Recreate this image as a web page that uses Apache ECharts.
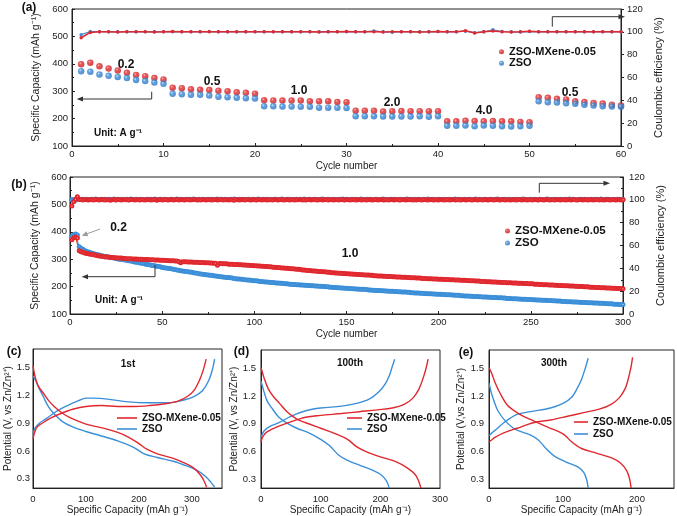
<!DOCTYPE html>
<html><head><meta charset="utf-8">
<script src="https://cdn.jsdelivr.net/npm/echarts@6/dist/echarts.min.js"></script>
<style>html,body{margin:0;padding:0;background:#fff}#c{width:677px;height:516px}</style>
</head><body><div id="c"></div>
<script>
// ---------- Panel (a): rate capability ----------
const capA_red = [398,404,391,383,376,367,359,355,348,343, 313,311,307,305,304,302,300,296,294,291, 267,266,266,266,266,263,263,263,261,260, 229,229,229,226,227,228,227,227,227,227, 190,190,192,191,190,191,190,190,188,187, 278,276,272,270,263,261,257,255,251,248];
const capA_blue = [373,371,361,356,352,348,341,337,332,327, 291,289,287,287,284,280,278,276,274,273, 245,245,244,244,243,243,240,240,240,239, 209,209,209,208,208,208,208,209,207,209, 174,174,175,172,175,174,172,171,172,174, 263,260,259,256,254,251,248,245,244,243];
const ceA_red = [94.8,99.5,100.1,100.0,99.9,100.0,100.1,100.0,99.9,100.0, 100.3,100.1,100.0,100.1,100.0,100.0,100.1,100.0,100.0,100.1, 100.0,100.1,100.0,100.0,100.1,100.0,99.9,100.0,100.0,100.2, 100.0,100.0,100.1,99.9,100.0,100.0,100.0,99.9,100.0,100.3, 100.0,100.0,101.0,99.0,100.0,100.7,100.1,99.9,100.0,100.6, 100.0,100.0,100.0,100.0,100.0,100.0,100.0,100.0,100.0,100.0];
const ceA_blue = [97.5,100.3,100.1,100.0,100.0,100.1,100.0,100.0,100.1,100.0, 100.1,100.0,100.0,100.0,100.2,100.0,100.0,100.1,100.0,100.0, 100.1,100.0,100.0,100.0,100.0,100.1,100.0,100.0,100.0,100.1, 100.0,100.0,100.8,100.0,99.7,100.0,100.1,100.0,100.0,100.2, 100.0,100.0,100.6,99.3,100.0,101.8,100.3,100.0,99.8,100.2, 100.0,100.0,100.0,100.0,100.0,100.0,100.0,100.0,100.0,100.0];
const rateLabelsA = ['0.2','0.5','1.0','2.0','4.0','0.5'];

// ---------- Panel (b): long cycling at 1.0 A/g ----------
const capB_red = [371,378,381,377,331,327,325,323,321,320, 318,317,316,314,313,312,311,310,308,309, 307,307,306,305,305,304,304,304,303,303, 302,302,302,301,301,301,300,300,300,299,
 299,299,298,298,298,297,297,297,296,296, 296,295,295,294,294,294,293,293,292,287, 291,291,291,290,290,290,289,289,289,288, 288,288,287,287,287,286,286,285,285,278,
 284,284,283,283,283,282,282,282,281,281, 281,280,280,279,279,278,278,277,277,276, 276,275,275,274,274,273,273,272,272,271, 271,270,270,269,268,268,267,267,266,265,
 265,264,263,263,262,261,261,260,259,259, 258,257,257,256,255,255,254,254,253,252, 252,251,251,250,250,249,249,248,248,247, 247,246,246,245,245,244,244,243,243,242,
 242,242,241,241,240,240,239,239,239,238, 238,237,237,237,236,236,235,235,235,234, 234,234,233,233,232,232,232,231,231,231, 230,230,230,229,229,229,228,228,228,227,
 227,227,226,226,226,225,225,225,224,224, 224,223,223,223,222,222,221,221,221,220, 220,220,219,219,219,218,218,218,217,217, 217,216,216,215,215,215,214,214,214,213,
 213,213,212,212,212,211,211,211,210,210, 210,209,209,209,208,208,207,207,207,206, 206,206,205,205,204,204,204,203,203,203, 202,202,202,201,201,200,200,200,199,199,
 199,198,198,198,197,197,197,196,196,196, 195,195,195,194,194,194,193,193,193,192];
const capB_blue = [384,389,392,388,345,340,336,332,329,326, 324,322,320,318,316,315,313,312,310,309, 308,306,305,304,303,301,300,299,298,297, 295,294,293,292,290,289,288,286,285,284,
 282,281,280,278,277,276,274,273,272,270, 269,268,267,266,265,263,262,261,260,258, 257,256,255,254,253,252,251,250,249,247, 246,245,244,243,242,241,241,240,239,238,
 237,236,235,234,233,233,232,231,230,229, 228,228,227,226,225,224,224,223,222,221, 221,220,219,219,218,217,217,216,215,215, 214,213,213,212,212,211,210,210,209,209,
 208,208,207,207,206,206,205,205,204,204, 203,203,202,202,201,201,200,200,199,199, 198,198,197,197,196,196,195,195,194,194, 193,193,192,192,191,191,190,190,190,189,
 189,188,188,187,187,186,186,186,185,185, 184,184,183,183,183,182,182,181,181,180, 180,180,179,179,178,178,177,177,177,176, 176,175,175,174,174,174,173,173,172,172,
 172,171,171,170,170,170,169,169,168,168, 168,167,167,166,166,166,165,165,164,164, 164,163,163,162,162,162,161,161,160,160, 160,159,159,159,158,158,157,157,157,156,
 156,156,155,155,154,154,154,153,153,153, 152,152,151,151,151,150,150,150,149,149, 149,148,148,147,147,147,146,146,146,145, 145,145,144,144,144,143,143,142,142,142,
 141,141,141,140,140,140,139,139,139,138, 138,137,137,137,136,136,136,135,135,135];
const ceB_red = [94.5,98.3,100.5,102.8,100.4,100.2,99.9,100.3,100.1,99.8,100.2,100.0,99.9,100.3,100.1,99.8,100.2,100.4,99.9,100.1,
 100.0,99.7,100.3,100.1,99.9,100.2,100.0,99.8,100.3,100.1,100.0,99.9,100.2,100.4,99.8,100.0,100.1,99.9,100.3,100.0,
 99.8,100.2,100.1,99.9,100.0,100.3,99.7,100.1,100.2,99.9,100.0,100.2,99.8,100.1,100.3,99.9,100.0,100.2,99.8,100.1,
 100.3,99.9,100.0,100.2,99.8,100.1,100.0,100.3,99.9,100.1,99.8,100.2,100.0,99.9,100.3,100.1,99.8,100.0,100.2,99.9,
 100.1,100.3,99.8,100.0,100.2,99.9,100.1,100.0,99.7,100.2,100.1,99.9,100.3,100.0,99.8,100.2,100.1,99.9,100.0,100.3,
 99.9,100.1,100.2,99.8,100.0,100.3,99.9,100.1,100.0,99.8,100.2,100.1,99.9,100.3,100.0,99.8,100.1,100.2,99.9,100.0,
 100.2,99.8,100.1,100.0,100.3,99.9,100.1,99.8,100.2,100.0,99.9,100.3,100.1,99.8,100.0,100.2,99.9,100.1,100.3,99.8,
 100.0,100.2,99.9,100.1,100.0,99.8,100.3,100.1,99.9,100.2,100.0,99.8,100.1,100.3,99.9,100.0,100.2,99.8,100.1,100.0,
 99.9,100.3,100.1,99.8,100.0,100.2,99.9,100.1,100.3,99.8,100.0,100.1,99.9,100.2,100.0,99.8,100.3,100.1,99.9,100.0,
 100.2,99.8,100.1,100.0,100.3,99.9,100.1,99.8,100.2,100.0,99.9,100.3,100.1,99.8,100.0,100.2,99.9,100.1,100.0,99.8,
 100.3,100.1,99.9,100.0,100.2,99.8,100.1,100.3,99.9,100.0,100.1,99.8,100.2,100.0,99.9,100.3,100.1,99.8,100.0,100.2,
 99.9,100.1,100.0,99.8,100.3,100.1,99.9,100.2,100.0,99.8,100.1,100.3,99.9,100.0,100.2,99.8,100.1,100.0,99.9,100.3,
 100.1,99.8,100.0,100.2,99.9,100.1,100.3,99.8,100.0,100.1,99.9,100.2,100.0,99.8,100.3,100.1,99.9,100.0,100.2,99.8,
 100.1,100.0,99.9,100.3,100.1,99.8,100.0,100.2,99.9,100.1,100.0,99.8,100.3,100.1,99.9,100.0,100.2,99.8,100.1,100.0,
 99.9,100.3,100.1,99.8,100.0,100.2,99.9,100.1,100.0,99.8,100.3,100.1,99.9,100.0,100.2,99.8,100.1,100.0,99.9,100.1];
const ceB_blue = [100.4,100.1,99.7,101.5,100.6,100.3,100.5,100.2,100.6,100.4,100.1,100.5,100.3,100.7,100.2,100.4,100.6,100.1,100.5,100.3,
 100.6,100.2,100.4,100.7,100.1,100.5,100.3,100.6,100.2,100.4,100.5,100.1,100.7,100.3,100.4,100.6,100.2,100.5,100.3,100.1,
 100.4,100.6,100.2,100.5,100.3,100.7,100.1,100.4,100.6,100.2,100.5,100.3,100.4,100.1,100.6,100.4,100.2,100.7,100.3,100.5,
 100.1,100.4,100.6,100.3,100.5,100.2,100.7,100.4,100.1,100.5,100.3,100.6,100.2,100.4,100.5,100.1,100.6,100.3,100.4,100.7,
 100.2,100.5,100.3,100.6,100.1,100.4,100.5,100.2,100.7,100.3,100.4,100.6,100.1,100.5,100.3,100.2,100.6,100.4,100.5,100.1,
 100.3,100.7,100.2,100.4,100.6,100.1,100.5,100.3,100.4,100.2,100.6,100.5,100.1,100.3,100.7,100.4,100.2,100.5,100.6,100.3,
 100.1,100.4,100.5,100.2,100.6,100.3,100.7,100.1,100.4,100.5,100.2,100.3,100.6,100.4,100.1,100.5,100.7,100.2,100.3,100.6,
 100.4,100.1,100.5,100.3,100.2,100.6,100.4,100.7,100.1,100.5,100.3,100.4,100.6,100.2,100.5,100.1,100.3,100.7,100.4,100.2,
 100.6,100.3,100.5,100.1,100.4,100.6,100.2,100.3,100.5,100.7,100.1,100.4,100.2,100.6,100.3,100.5,100.4,100.1,100.6,100.2,
 100.3,100.5,100.7,100.4,100.1,100.3,100.6,100.2,100.5,100.4,100.1,100.6,100.3,100.7,100.2,100.4,100.5,100.1,100.3,100.6,
 100.2,100.4,100.5,100.3,100.1,100.6,100.4,100.2,100.7,100.3,100.5,100.1,100.4,100.6,100.2,100.3,100.5,100.4,100.1,100.7,
 100.3,100.6,100.2,100.4,100.5,100.1,100.3,100.6,100.4,100.2,100.5,100.7,100.1,100.3,100.4,100.6,100.2,100.5,100.3,100.1,
 100.4,100.6,100.3,100.2,100.5,100.7,100.1,100.4,100.3,100.6,100.2,100.5,100.4,100.1,100.6,100.3,100.2,100.5,100.7,100.4,
 100.1,100.3,100.6,100.4,100.2,100.5,100.3,100.1,100.6,100.4,100.7,100.2,100.5,100.3,100.1,100.4,100.6,100.2,100.5,100.3,
 100.4,100.1,100.6,100.3,100.5,100.2,100.4,100.7,100.1,100.3,100.5,100.6,100.2,100.4,100.3,100.1,100.5,100.6,100.2,100.4];

// ---------- Panels (c)-(e): charge/discharge curves [capacity, potential] ----------
const c1_red_dis = [[0,1.52],[4,1.40],[10,1.30],[20,1.22],[30,1.14],[40,1.08],[55,1.01],[70,0.96],[100,0.89],[130,0.85],[160,0.80],[180,0.75],[200,0.68],[215,0.62],[235,0.57],[265,0.52],[290,0.46],[305,0.41],[315,0.35],[322,0.29],[328,0.21]];
const c1_blue_dis = [[0,1.41],[5,1.36],[12,1.27],[20,1.18],[30,1.07],[40,1.00],[55,0.92],[75,0.86],[100,0.81],[125,0.77],[160,0.71],[190,0.64],[210,0.57],[235,0.53],[265,0.49],[290,0.44],[310,0.39],[325,0.33],[335,0.27],[343,0.21]];
const c1_red_chg = [[0,0.73],[3,0.80],[8,0.86],[20,0.91],[35,0.96],[55,1.01],[75,1.05],[100,1.08],[130,1.09],[160,1.08],[190,1.08],[220,1.09],[250,1.11],[275,1.14],[292,1.19],[305,1.26],[315,1.37],[322,1.48],[327,1.59]];
const c1_blue_chg = [[0,0.78],[4,0.85],[12,0.90],[25,0.95],[45,1.03],[65,1.09],[85,1.14],[100,1.17],[115,1.17],[140,1.16],[180,1.13],[220,1.12],[255,1.12],[285,1.15],[305,1.19],[320,1.25],[332,1.36],[339,1.48],[343,1.59]];
const c100_red_dis = [[0,1.51],[5,1.40],[12,1.28],[20,1.20],[31,1.12],[45,1.02],[60,0.95],[75,0.91],[100,0.85],[125,0.79],[145,0.73],[160,0.65],[175,0.60],[200,0.54],[225,0.49],[245,0.42],[258,0.35],[264,0.28],[268,0.20]];
const c100_blue_dis = [[0,1.36],[4,1.27],[10,1.15],[17,1.08],[30,0.97],[45,0.90],[60,0.85],[80,0.80],[100,0.73],[115,0.66],[130,0.56],[145,0.50],[165,0.45],[185,0.40],[200,0.35],[210,0.28],[215,0.20]];
const c100_red_chg = [[0,0.70],[3,0.76],[10,0.81],[25,0.86],[50,0.92],[75,0.97],[100,0.99],[135,1.01],[165,1.03],[195,1.05],[220,1.07],[240,1.11],[255,1.18],[265,1.28],[272,1.40],[277,1.51],[280,1.60]];
const c100_blue_chg = [[0,0.75],[5,0.82],[15,0.87],[30,0.91],[50,0.98],[75,1.04],[100,1.07],[135,1.09],[160,1.12],[182,1.17],[198,1.25],[208,1.33],[215,1.42],[220,1.52],[224,1.60]];
const c300_red_dis = [[0,1.51],[4,1.44],[8,1.35],[15,1.23],[25,1.10],[40,1.01],[60,0.93],[80,0.86],[100,0.79],[112,0.70],[125,0.63],[145,0.58],[165,0.53],[178,0.47],[186,0.39],[190,0.30],[192,0.20]];
const c300_blue_dis = [[0,1.34],[3,1.24],[7,1.14],[12,1.04],[22,0.93],[35,0.84],[55,0.78],[67,0.72],[77,0.63],[88,0.55],[105,0.48],[120,0.43],[128,0.37],[132,0.29],[134,0.20]];
const c300_red_chg = [[0,0.70],[3,0.72],[8,0.75],[20,0.80],[38,0.85],[60,0.91],[83,0.94],[106,0.98],[128,1.02],[150,1.06],[165,1.11],[176,1.18],[184,1.28],[188,1.38],[192,1.52],[194,1.62]];
const c300_blue_chg = [[0,0.77],[4,0.80],[10,0.84],[20,0.91],[38,1.00],[56,1.03],[83,1.07],[100,1.12],[112,1.19],[119,1.28],[125,1.38],[130,1.50],[134,1.61]];

const NAME_R = 'ZSO-MXene-0.05', NAME_B = 'ZSO';
const RED = '#e0282e', BLUE = '#3b8fd8';
const FONT = 'Liberation Sans, Arial, sans-serif';

const withCycle = arr => arr.map((v, i) => [i + 1, v]);
const sphere = (hi, mid, lo) => ({type:'radial', x:0.38, y:0.35, r:0.7, colorStops:[{offset:0,color:hi},{offset:0.28,color:mid},{offset:1,color:lo}]});
const RED_S = sphere('#ffb0b0', '#e22e30', '#c01a20');
const BLUE_S = sphere('#cfe8ff', '#3e90da', '#2a6fbd');

const axLine = {show:true, lineStyle:{color:'#222', width:1}};
function xAx(grid, min, max, interval, name, opts) {
  return Object.assign({type:'value', gridIndex:grid, min, max, interval, name, nameLocation:'middle',
    nameTextStyle:{fontFamily:FONT, fontSize:10, color:'#222'},
    axisLine:axLine, splitLine:{show:false},
    axisLabel:{fontFamily:FONT, fontSize:9.5, color:'#222', margin:3},
    axisTick:{show:true, inside:true, length:3, lineStyle:{color:'#222'}}}, opts || {});
}
function yAx(grid, min, max, interval, name, opts) {
  return Object.assign({type:'value', gridIndex:grid, min, max, interval, name, nameLocation:'middle', nameRotate:90,
    nameTextStyle:{fontFamily:FONT, fontSize:10.5, color:'#222'},
    axisLine:axLine, splitLine:{show:false},
    axisLabel:{fontFamily:FONT, fontSize:9.5, color:'#222', margin:3},
    axisTick:{show:true, inside:true, length:3, lineStyle:{color:'#222'}}}, opts || {});
}
const potFmt = v => { const k = Math.round(v * 10); return k % 3 === 0 ? (k / 10).toFixed(1) : ''; };
const capFmt = v => (Math.round(v) % 100 === 0 ? String(Math.round(v)) : '');

const xAxis = [
  xAx(0, 0, 60, 10, 'Cycle number', {nameGap:15, minorTick:{show:true, splitNumber:2, length:2}}),
  xAx(1, 0, 300, 50, 'Cycle number', {nameGap:15, minorTick:{show:true, splitNumber:2, length:2}}),
  xAx(2, 0, 357, 100, 'Specific Capacity (mAh g\u207B\u00B9)', {nameGap:14, axisTick:{show:false}, axisLabel:{fontFamily:FONT, fontSize:9.5, color:'#222', margin:6, formatter:capFmt}}),
  xAx(3, 0, 300, 100, 'Specific Capacity (mAh g\u207B\u00B9)', {nameGap:14, axisTick:{show:false}, axisLabel:{fontFamily:FONT, fontSize:9.5, color:'#222', margin:6, formatter:capFmt}}),
  xAx(4, 0, 250, 50, 'Specific Capacity (mAh g\u207B\u00B9)', {nameGap:14, axisTick:{show:false}, axisLabel:{fontFamily:FONT, fontSize:9.5, color:'#222', margin:6, formatter:capFmt}})
];
const yAxis = [
  yAx(0, 100, 600, 100, 'Specific Capacity (mAh g\u207B\u00B9)', {nameGap:22, axisLabel:{fontFamily:FONT, fontSize:9.5, color:'#222', margin:4}, minorTick:{show:true, splitNumber:2, length:2}}),
  yAx(0, 0, 120, 20, 'Coulombic efficiency (%)', {position:'right', nameGap:27, nameTextStyle:{fontFamily:FONT, fontSize:11, color:'#222'}, axisTick:{show:true, inside:false, length:3, lineStyle:{color:'#222'}}, axisLabel:{fontFamily:FONT, fontSize:9.5, color:'#222', margin:6}}),
  yAx(1, 100, 600, 100, 'Specific Capacity (mAh g\u207B\u00B9)', {nameGap:23, axisLabel:{fontFamily:FONT, fontSize:9.5, color:'#222', margin:3}, minorTick:{show:true, splitNumber:2, length:2}}),
  yAx(1, 0, 120, 20, 'Coulombic efficiency (%)', {position:'right', nameGap:28, nameTextStyle:{fontFamily:FONT, fontSize:11, color:'#222'}, minorTick:{show:true, splitNumber:2, length:2}, axisLabel:{fontFamily:FONT, fontSize:9.5, color:'#222', margin:6}}),
  yAx(2, 0.2, 1.7, 0.1, 'Potential (V, vs Zn/Zn\u00B2\u207A)', {nameGap:17, nameTextStyle:{fontFamily:FONT, fontSize:10, color:'#222'}, axisTick:{show:false}, axisLabel:{fontFamily:FONT, fontSize:9.5, color:'#222', margin:3, formatter:potFmt}}),
  yAx(3, 0.2, 1.7, 0.1, 'Potential (V, vs Zn/Zn\u00B2\u207A)', {nameGap:20, nameTextStyle:{fontFamily:FONT, fontSize:10, color:'#222'}, axisTick:{show:false}, axisLabel:{fontFamily:FONT, fontSize:9.5, color:'#222', margin:5, formatter:potFmt}}),
  yAx(4, 0.2, 1.7, 0.1, 'Potential (V,vs Zn/Zn\u00B2\u207A)', {nameGap:23, nameTextStyle:{fontFamily:FONT, fontSize:10, color:'#222'}, axisTick:{show:false}, axisLabel:{fontFamily:FONT, fontSize:9.5, color:'#222', margin:5, formatter:potFmt}})
];
const gridBase = {show:true, borderColor:'#222', borderWidth:1, backgroundColor:'transparent', containLabel:false};
const grid = [
  Object.assign({left:72, top:9, width:549, height:137}, gridBase),
  Object.assign({left:70, top:177, width:553, height:137}, gridBase),
  Object.assign({left:33, top:349, width:189, height:140}, gridBase),
  Object.assign({left:261, top:350, width:179, height:139}, gridBase),
  Object.assign({left:489, top:350, width:185, height:139}, gridBase)
];

const curve = (name, color, x, y, data) => ({name, type:'line', xAxisIndex:x, yAxisIndex:y, data, symbol:'none', smooth:0.35,
  lineStyle:{color, width:1.4}, itemStyle:{color}, z:3});

const series = [
  {name:NAME_R, type:'scatter', xAxisIndex:0, yAxisIndex:0, data:withCycle(capA_red), symbolSize:6.5, itemStyle:{color:RED_S}, z:4},
  {name:NAME_B, type:'scatter', xAxisIndex:0, yAxisIndex:0, data:withCycle(capA_blue), symbolSize:6.5, itemStyle:{color:BLUE_S}, z:4},
  {name:NAME_B, type:'line', xAxisIndex:0, yAxisIndex:1, data:withCycle(ceA_blue), symbol:'circle', symbolSize:3.5, lineStyle:{color:BLUE, width:1.2}, itemStyle:{color:BLUE}, z:3},
  {name:NAME_R, type:'line', xAxisIndex:0, yAxisIndex:1, data:withCycle(ceA_red), symbol:'circle', symbolSize:3.5, lineStyle:{color:RED, width:1.5}, itemStyle:{color:RED}, z:3},
  {name:NAME_B, type:'line', xAxisIndex:1, yAxisIndex:2, data:withCycle(capB_blue), symbol:'emptyCircle', symbolSize:3, lineStyle:{color:BLUE, width:1}, itemStyle:{color:BLUE, borderWidth:0.8}, z:3},
  {name:NAME_R, type:'line', xAxisIndex:1, yAxisIndex:2, data:withCycle(capB_red), symbol:'emptyCircle', symbolSize:3, lineStyle:{color:RED, width:1}, itemStyle:{color:RED, borderWidth:0.8}, z:3},
  {name:NAME_B, type:'line', xAxisIndex:1, yAxisIndex:3, data:withCycle(ceB_blue), symbol:'emptyCircle', symbolSize:3, lineStyle:{color:BLUE, width:1}, itemStyle:{color:BLUE, borderWidth:0.8}, z:3},
  {name:NAME_R, type:'line', xAxisIndex:1, yAxisIndex:3, data:withCycle(ceB_red), symbol:'emptyCircle', symbolSize:3, lineStyle:{color:RED, width:1}, itemStyle:{color:RED, borderWidth:0.8}, z:3},
  curve(NAME_B, BLUE, 2, 4, c1_blue_dis), curve(NAME_B, BLUE, 2, 4, c1_blue_chg),
  curve(NAME_R, RED, 2, 4, c1_red_dis), curve(NAME_R, RED, 2, 4, c1_red_chg),
  curve(NAME_B, BLUE, 3, 5, c100_blue_dis), curve(NAME_B, BLUE, 3, 5, c100_blue_chg),
  curve(NAME_R, RED, 3, 5, c100_red_dis), curve(NAME_R, RED, 3, 5, c100_red_chg),
  curve(NAME_B, BLUE, 4, 6, c300_blue_dis), curve(NAME_B, BLUE, 4, 6, c300_blue_chg),
  curve(NAME_R, RED, 4, 6, c300_red_dis), curve(NAME_R, RED, 4, 6, c300_red_chg)
];

const legText = (size, lh) => ({fontFamily:FONT, fontSize:size, fontWeight:'bold', color:'#111', lineHeight:lh});
const legend = [
  {left:499, top:46, orient:'vertical', padding:0, itemGap:0, itemWidth:5, itemHeight:5, itemTextGap:5, selectedMode:false,
   textStyle:legText(11, 11.5), data:[{name:NAME_R, icon:'circle'}, {name:NAME_B, icon:'circle'}]},
  {left:505, top:225, orient:'vertical', padding:0, itemGap:0, itemWidth:5, itemHeight:5, itemTextGap:6, selectedMode:false,
   textStyle:legText(11.5, 11.5), data:[{name:NAME_R, icon:'circle'}, {name:NAME_B, icon:'circle'}]},
  {left:117, top:412.5, orient:'vertical', padding:0, itemGap:0, itemWidth:20, itemHeight:2, itemTextGap:2, selectedMode:false,
   textStyle:legText(10, 11), data:[{name:NAME_R, icon:'rect', itemStyle:{color:RED}}, {name:NAME_B, icon:'rect', itemStyle:{color:BLUE}}]},
  {left:347, top:412.5, orient:'vertical', padding:0, itemGap:0, itemWidth:15, itemHeight:2, itemTextGap:2, selectedMode:false,
   textStyle:legText(10, 11), data:[{name:NAME_R, icon:'rect', itemStyle:{color:RED}}, {name:NAME_B, icon:'rect', itemStyle:{color:BLUE}}]},
  {left:574, top:416, orient:'vertical', padding:0, itemGap:0, itemWidth:14, itemHeight:2, itemTextGap:2, selectedMode:false,
   textStyle:legText(10, 12), data:[{name:NAME_R, icon:'rect', itemStyle:{color:RED}}, {name:NAME_B, icon:'rect', itemStyle:{color:BLUE}}]}
];

// ---------- annotations ----------
const txt = (text, x, y, size, bold, align) => ({type:'text', x, y, z:20, silent:true,
  style:{text, fontFamily:FONT, fontSize:size, fontWeight:bold ? 'bold' : 'normal', fill:'#111', textAlign:align || 'center', textVerticalAlign:'middle'}});
const pl = (pts, color) => ({type:'polyline', z:20, silent:true, shape:{points:pts}, style:{stroke:color || '#333', lineWidth:1, fill:null}});
const head = (pts, color) => ({type:'polygon', z:20, silent:true, shape:{points:pts}, style:{fill:color || '#333', stroke:null}});
const rateAPos = [[126,65],[212,82],[299,91],[392,103],[484,111],[570,93]];
const graphic = [
  txt('(a)', 29, 8, 12, true), txt('(b)', 19, 185, 12, true), txt('(c)', 14, 352, 12, true), txt('(d)', 241.5, 352, 12, true), txt('(e)', 466, 353, 12, true),
  ...rateLabelsA.map((t, i) => txt(t, rateAPos[i][0], rateAPos[i][1], 12, true)),
  txt('Unit: A g\u207B\u00B9', 94, 133, 10, true, 'left'),
  txt('Unit: A g\u207B\u00B9', 95, 300, 10, true, 'left'),
  txt('0.2', 118.5, 228, 12, true), txt('1.0', 350, 254, 12, true),
  txt('1st', 128, 364, 10, true), txt('100th', 350, 363, 10, true), txt('300th', 554, 363, 10, true),
  pl([[151.7,91.7],[151.7,99],[82,99]]), head([[76.7,99],[83,96.5],[83,101.5]]),
  pl([[552.3,26.7],[552.3,16.7],[619,16.7]]), head([[625,16.7],[618.5,14.2],[618.5,19.2]]),
  pl([[155,265],[155,276.7],[87,276.7]]), head([[81.7,276.7],[88,274.2],[88,279.2]]),
  pl([[539.3,192.7],[539.3,183.3],[604,183.3]]), head([[610,183.3],[603.5,180.8],[603.5,185.8]]),
  pl([[100,229],[86.5,234]], '#9a9a9a'), head([[81.7,235.7],[88.2,236.2],[86.4,231.3]], '#9a9a9a')
];

const chart = echarts.init(document.getElementById('c'), null, {renderer:'canvas'});
chart.setOption({animation:false, backgroundColor:'#fff', textStyle:{fontFamily:FONT}, grid, xAxis, yAxis, legend, series, graphic});
</script></body></html>
